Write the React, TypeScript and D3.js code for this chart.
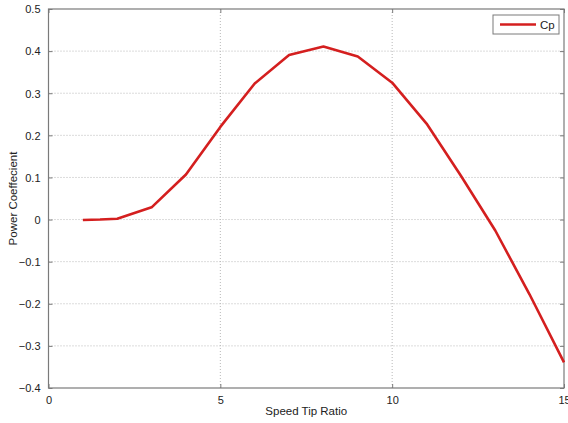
import React, { useEffect, useRef } from "react";
import * as d3 from "d3";

// tip speed ratio vs power coefficient
const tsr = [1, 1.5, 2, 3, 4, 5, 6, 7, 8, 9, 10, 11, 12, 13, 14, 15];
const cp = [-0.001, 0, 0.002, 0.029, 0.107, 0.22, 0.323, 0.391, 0.411, 0.387, 0.325, 0.228, 0.104, -0.026, -0.178, -0.339];
const xTicks = [0, 5, 10, 15];
const yTicks = [-0.4, -0.3, -0.2, -0.1, 0, 0.1, 0.2, 0.3, 0.4, 0.5];

function App() {
  const svgRef = useRef<SVGSVGElement>(null);

  useEffect(() => {
    const w = 568;
    const h = 423;
    const m = { left: 48.5, right: 4, top: 9, bottom: 35 };
    const svg = d3.select(svgRef.current).attr("width", w).attr("height", h);
    svg.selectAll("*").remove();

    const x = d3.scaleLinear().domain([0, 15]).range([m.left, w - m.right]);
    const y = d3.scaleLinear().domain([-0.4, 0.5]).range([h - m.bottom, m.top]);
    const font = "Liberation Sans, Arial, sans-serif";

    // dotted grid
    svg
      .append("g")
      .selectAll("line.vx")
      .data(xTicks.slice(1, -1))
      .join("line")
      .attr("x1", (d) => x(d))
      .attr("x2", (d) => x(d))
      .attr("y1", y(-0.4))
      .attr("y2", y(0.5))
      .attr("stroke", "#b8b8b8")
      .attr("stroke-dasharray", "1,2");
    svg
      .append("g")
      .selectAll("line.hy")
      .data(yTicks.slice(1, -1))
      .join("line")
      .attr("x1", x(0))
      .attr("x2", x(15))
      .attr("y1", (d) => y(d))
      .attr("y2", (d) => y(d))
      .attr("stroke", "#b8b8b8")
      .attr("stroke-dasharray", "1,2");

    // box
    svg
      .append("rect")
      .attr("x", x(0))
      .attr("y", y(0.5))
      .attr("width", x(15) - x(0))
      .attr("height", y(-0.4) - y(0.5))
      .attr("fill", "none")
      .attr("stroke", "#7a7a7a")
      .attr("stroke-width", 1.2);

    // inward ticks, matlab style
    const tk = 4;
    const axisCol = "#7a7a7a";
    const bottom = svg.append("g").attr("transform", `translate(0,${y(-0.4)})`)
      .call(d3.axisBottom(x).tickValues(xTicks).tickSizeInner(-tk).tickSizeOuter(0).tickPadding(6 + tk).tickFormat(d3.format("d")));
    svg.append("g").attr("transform", `translate(0,${y(0.5)})`)
      .call(d3.axisTop(x).tickValues(xTicks).tickSizeInner(-tk).tickSizeOuter(0).tickFormat(() => ""));
    const left = svg.append("g").attr("transform", `translate(${x(0)},0)`)
      .call(d3.axisLeft(y).tickValues(yTicks).tickSizeInner(-tk).tickSizeOuter(0).tickPadding(4 + tk).tickFormat((d) => (d === 0 ? "0" : d3.format(".1f")(d as number))));
    svg.append("g").attr("transform", `translate(${x(15)},0)`)
      .call(d3.axisRight(y).tickValues(yTicks).tickSizeInner(-tk).tickSizeOuter(0).tickFormat(() => ""));
    svg.selectAll(".domain").remove();
    svg.selectAll(".tick line").attr("stroke", axisCol);
    svg.selectAll(".tick text").attr("fill", "#222").style("font-family", font).style("font-size", "11px");
    bottom.selectAll(".tick text").attr("dy", "0.5em");
    left.selectAll(".tick text").attr("dy", "0.35em");

    // curve
    const line = d3
      .line<number>()
      .x((d, i) => x(tsr[i]))
      .y((d) => y(d));
    svg
      .append("path")
      .datum(cp)
      .attr("d", line)
      .attr("fill", "none")
      .attr("stroke", "#d41f1f")
      .attr("stroke-width", 2.6)
      .attr("stroke-linejoin", "round");

    // labels
    svg
      .append("text")
      .attr("x", (x(0) + x(15)) / 2)
      .attr("y", h - 8)
      .attr("text-anchor", "middle")
      .style("font-family", font)
      .style("font-size", "11.5px")
      .attr("fill", "#222")
      .text("Speed Tip Ratio");
    svg
      .append("text")
      .attr("transform", `translate(17,${(y(-0.4) + y(0.5)) / 2}) rotate(-90)`)
      .attr("text-anchor", "middle")
      .style("font-family", font)
      .style("font-size", "11.5px")
      .attr("fill", "#222")
      .text("Power Coeffecient");

    // legend
    const lg = svg.append("g").attr("transform", `translate(${x(15) - 71},${y(0.5) + 6})`);
    lg.append("rect").attr("width", 66).attr("height", 19).attr("fill", "#fff").attr("stroke", "#7a7a7a");
    lg.append("line").attr("x1", 7).attr("x2", 43).attr("y1", 9.5).attr("y2", 9.5).attr("stroke", "#d41f1f").attr("stroke-width", 2.6);
    lg.append("text").attr("x", 47).attr("y", 13.5).style("font-family", font).style("font-size", "11.5px").attr("fill", "#222").text("Cp");
  }, []);

  return <svg ref={svgRef} style={{ position: "absolute", left: 0, top: 0 }}></svg>;
}

export default App;
